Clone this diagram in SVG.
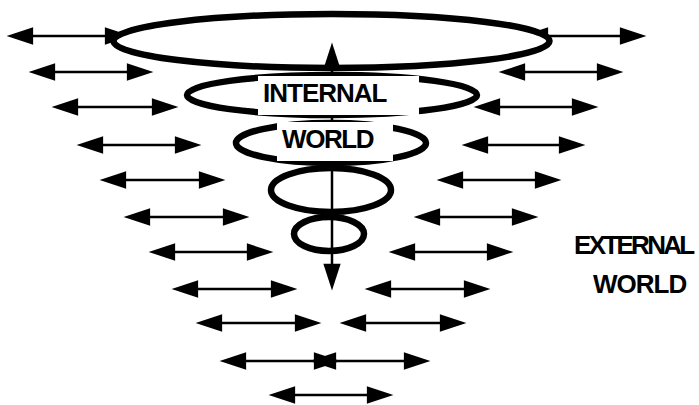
<svg xmlns="http://www.w3.org/2000/svg" width="699" height="405" viewBox="0 0 699 405">
<style>
.ar{stroke:#000;stroke-width:2.5;fill:none;marker-start:url(#h);marker-end:url(#h)}
.el{stroke:#000;stroke-width:6.5;fill:none}
.lbl{font-family:"Liberation Sans",Arial,sans-serif;font-weight:bold;font-size:26px;fill:#000}
.box{fill:#fff;stroke:none}
</style>
<defs>
<marker id="h" markerUnits="userSpaceOnUse" markerWidth="30" markerHeight="20" viewBox="-2 -8 26 16" refX="0" refY="0" orient="auto-start-reverse" overflow="visible">
<path d="M-1,-7.5 L22,0 L-1,7.5 z" fill="#000"/>
</marker>
</defs>
<rect width="699" height="405" fill="#fff"/>
<g id="connectors">
<line class="ar" x1="32" y1="36" x2="106" y2="36"/>
<line class="ar" x1="547" y1="36" x2="621" y2="36"/>
<line class="ar" x1="54" y1="72" x2="128" y2="72"/>
<line class="ar" x1="524" y1="72" x2="598" y2="72"/>
<line class="ar" x1="77" y1="107" x2="153" y2="107"/>
<line class="ar" x1="499" y1="107" x2="573" y2="107"/>
<line class="ar" x1="102" y1="145" x2="176" y2="145"/>
<line class="ar" x1="487" y1="145" x2="560" y2="145"/>
<line class="ar" x1="125" y1="180" x2="200" y2="180"/>
<line class="ar" x1="462" y1="180" x2="536" y2="180"/>
<line class="ar" x1="149" y1="217" x2="224" y2="217"/>
<line class="ar" x1="439" y1="217" x2="513" y2="217"/>
<line class="ar" x1="174" y1="252" x2="248" y2="252"/>
<line class="ar" x1="414" y1="252" x2="488" y2="252"/>
<line class="ar" x1="197" y1="289" x2="272" y2="289"/>
<line class="ar" x1="390" y1="289" x2="465" y2="289"/>
<line class="ar" x1="221" y1="323" x2="296" y2="323"/>
<line class="ar" x1="365" y1="323" x2="441" y2="323"/>
<line class="ar" x1="245" y1="361" x2="315" y2="361"/>
<line class="ar" x1="335" y1="361" x2="405" y2="361"/>
<line class="ar" x1="294" y1="395" x2="368" y2="395"/>
</g>
<g id="outer-ellipse"><ellipse class="el" cx="331.5" cy="41" rx="218" ry="27" style="fill:#fff"/></g>
<g id="ring-2"><ellipse class="el" cx="332" cy="95" rx="145" ry="20"/></g>
<g id="ring-3"><ellipse class="el" cx="331" cy="143" rx="95" ry="20"/></g>
<g id="ring-4"><ellipse class="el" cx="331" cy="190" rx="60" ry="22"/></g>
<g id="ring-5"><ellipse class="el" cx="329" cy="234" rx="35" ry="17"/></g>
<g id="axis"><line class="ar" x1="332" y1="68" x2="332" y2="265"/></g>
<g id="internal-world">
<rect class="box" x="258" y="76" width="161" height="39"/>
<rect class="box" x="277" y="122" width="116" height="39"/>
<text class="lbl" x="263" y="102" letter-spacing="-1">INTERNAL</text>
<text class="lbl" x="282" y="148" letter-spacing="-1.4">WORLD</text>
</g>
<g id="external-world">
<text class="lbl" x="574" y="254" letter-spacing="-2.7">EXTERNAL</text>
<text class="lbl" x="593" y="293" letter-spacing="-1">WORLD</text>
</g>
</svg>
